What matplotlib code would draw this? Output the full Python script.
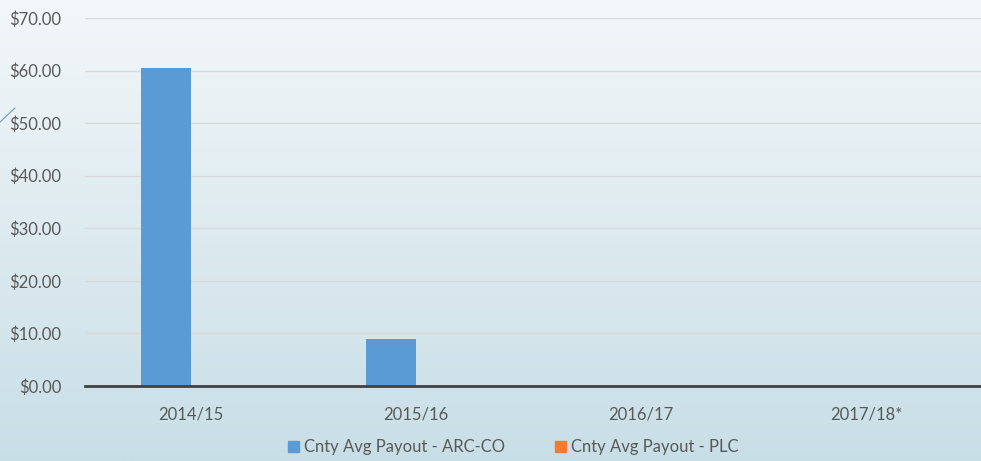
import numpy as np
import matplotlib.pyplot as plt
from matplotlib.patches import Patch
from matplotlib.lines import Line2D

years = ["2014/15", "2015/16", "2016/17", "2017/18*"]
arc_co = [60.5, 8.95, 0.0, 0.0]
plc = [0.0, 0.0, 0.0, 0.0]

plt.rcParams['font.family'] = ['Lato', 'DejaVu Sans']
txt = '#595959'

fig = plt.figure(figsize=(9.81, 4.61), dpi=100)

# background gradient
bg = fig.add_axes([0, 0, 1, 1], zorder=-10)
grad = np.linspace(0, 1, 256).reshape(-1, 1)
top = np.array([243, 247, 249]) / 255
bot = np.array([200, 222, 230]) / 255
img = top + (bot - top) * grad[:, :, None]
bg.imshow(img, aspect='auto', extent=[0, 1, 0, 1])
bg.axis('off')

ax = fig.add_axes([85 / 981, 1 - 386 / 461, 1 - 85 / 981, (386 - 18) / 461])
ax.patch.set_alpha(0)

x = np.arange(len(years))
w = 0.222
ax.bar(x - w / 2, arc_co, w, color='#5B9BD5', label='Cnty Avg Payout - ARC-CO', zorder=3)
ax.bar(x + w / 2, plc, w, color='#ED7D31', label='Cnty Avg Payout - PLC', zorder=3)

ax.set_xlim(-0.471, 3.511)
ax.set_ylim(0, 70)
ax.set_yticks(np.arange(0, 71, 10))
ax.set_yticklabels(['${:.2f}'.format(v) for v in range(0, 71, 10)])
ax.set_xticks(x)
ax.set_xticklabels(years)
ax.tick_params(length=0, labelsize=12, labelcolor=txt)
ax.tick_params(axis='x', pad=15)
ax.tick_params(axis='y', pad=17)
ax.grid(axis='y', color='#D9D9D9', linewidth=1, zorder=0)
for s in ['top', 'right', 'left']:
    ax.spines[s].set_visible(False)
ax.spines['bottom'].set_color('#404040')
ax.spines['bottom'].set_linewidth(2)
ax.spines['bottom'].set_zorder(4)

handles = [Patch(color='#5B9BD5'), Patch(color='#ED7D31')]
fig.legend(handles, ['Cnty Avg Payout - ARC-CO', 'Cnty Avg Payout - PLC'],
           loc='center', bbox_to_anchor=(513 / 981, 1 - 447 / 461), ncol=2,
           frameon=False, fontsize=12, labelcolor=txt, handlelength=0.65,
           handleheight=0.65, handletextpad=0.3, columnspacing=3.0)

# small stray stroke on the left edge
fig.add_artist(Line2D([0 / 981, 15 / 981], [1 - 122 / 461, 1 - 108 / 461],
                      color='#7A9AB0', linewidth=0.8))

fig.savefig('out.png', dpi=100)
